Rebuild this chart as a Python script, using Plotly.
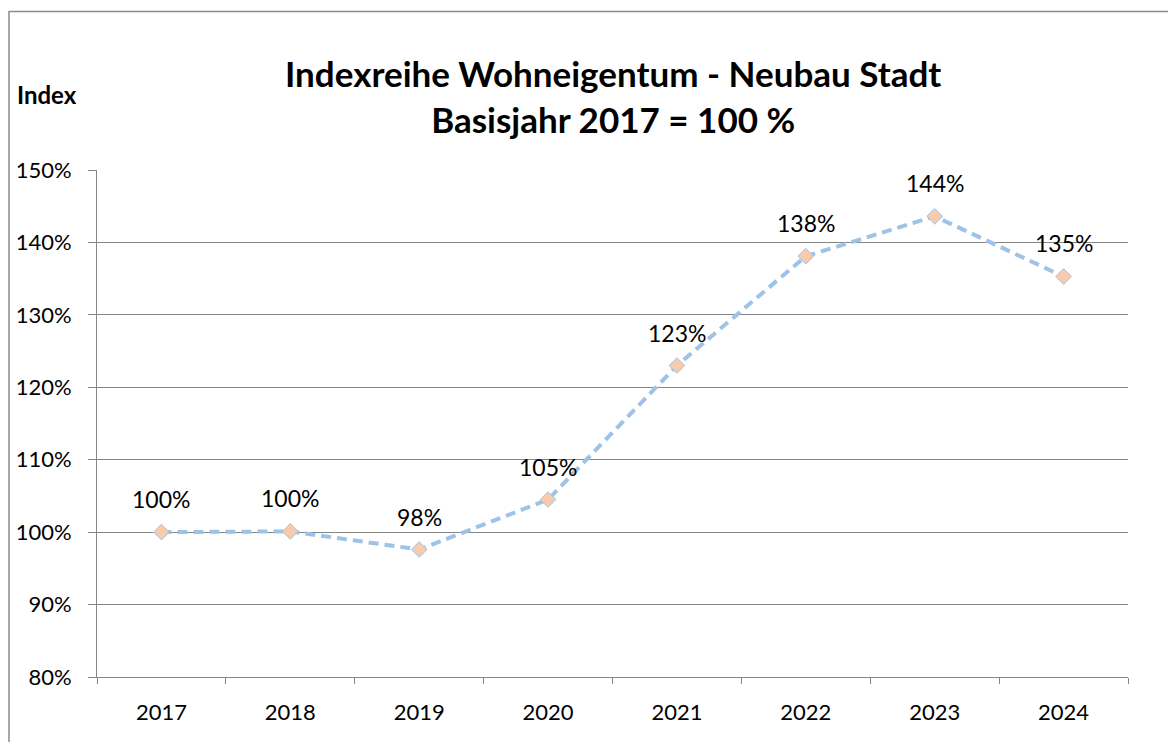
import plotly.graph_objects as go

years = ["2017", "2018", "2019", "2020", "2021", "2022", "2023", "2024"]
index_values = [100.0, 100.1, 97.6, 104.5, 123.0, 138.1, 143.6, 135.3]
value_labels = ["100%", "100%", "98%", "105%", "123%", "138%", "144%", "135%"]
y_ticks = [80, 90, 100, 110, 120, 130, 140, 150]
y_tick_labels = ["80%", "90%", "100%", "110%", "120%", "130%", "140%", "150%"]

FONT = "Lato"
OFF = 8  # page body margin
W, H = 1176 - OFF, 742 - OFF
PX0, PX1, PY0, PY1 = 97, 1128, 170, 677  # plot area in page pixels
L = PX0 - OFF
T = PY0 - OFF
R = W - (PX1 - OFF)
B = H - (PY1 - OFF)
pw = PX1 - PX0
ph = PY1 - PY0


def px(x):
    return (x - PX0) / pw


def py(y):
    return (PY1 - y) / ph


fig = go.Figure()
fig.add_trace(go.Scatter(
    x=years, y=index_values, mode="lines+markers",
    line=dict(color="#9DC3E6", width=4, dash="10px,6px"),
    marker=dict(symbol="diamond", size=12, color="#F8CBAD",
                line=dict(color="#9DC3E6", width=1)),
    hoverinfo="x+y", showlegend=False,
))

for i, (v, lab) in enumerate(zip(index_values, value_labels)):
    fig.add_annotation(x=i, y=v, text=lab, showarrow=False, yshift=33,
                       font=dict(family=FONT, size=23, color="#000000"))

fig.add_annotation(xref="paper", yref="paper", x=px(15), y=py(95),
                   xanchor="left", yanchor="middle", text="<b>Index</b>", showarrow=False,
                   font=dict(family=FONT, size=24, color="#000000"))

fig.add_annotation(xref="paper", yref="paper", x=px(613), y=py(96),
                   xanchor="center", yanchor="middle",
                   text="<b>Indexreihe Wohneigentum - Neubau Stadt<br>Basisjahr 2017 = 100 %</b>",
                   showarrow=False, align="center",
                   font=dict(family=FONT, size=35, color="#000000"))

# chart border
fig.add_shape(type="rect", xref="paper", yref="paper",
              x0=px(9), x1=px(1200), y0=py(770), y1=py(11.5),
              line=dict(color="#8C8C8C", width=1.5), fillcolor="rgba(0,0,0,0)", layer="below")

fig.update_layout(
    width=W, height=H,
    margin=dict(l=L, r=R, t=T, b=B, pad=0, autoexpand=False),
    paper_bgcolor="white", plot_bgcolor="white",
    font=dict(family=FONT, size=22, color="#000000"),
    xaxis=dict(type="category", showgrid=False, showline=True, linecolor="#868686", linewidth=1,
               ticks="outside", ticklen=6, tickcolor="#868686", tickson="boundaries",
               ticklabelstandoff=16, automargin=False,
               tickfont=dict(family=FONT, size=22), range=[-0.5, 7.5], fixedrange=True),
    yaxis=dict(range=[80, 150], tickvals=y_ticks, ticktext=y_tick_labels,
               showgrid=True, gridcolor="#868686", gridwidth=1,
               showline=True, linecolor="#868686", linewidth=1,
               ticks="outside", ticklen=8, tickcolor="#868686",
               ticklabelstandoff=12, automargin=False,
               tickfont=dict(family=FONT, size=22), zeroline=False, fixedrange=True),
)

fig.write_html("out.html")
